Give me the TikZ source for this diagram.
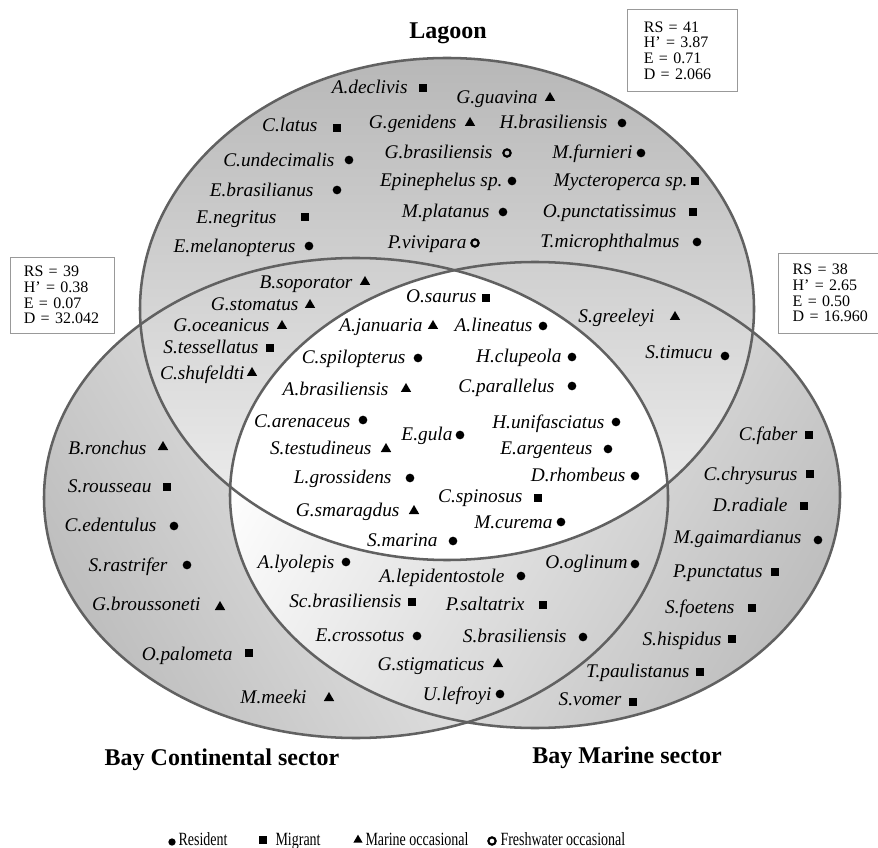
\documentclass[tikz,border=0pt]{standalone}
\usepackage{fontspec}
\setmainfont{Liberation Serif}
\usepackage{graphicx}
\usetikzlibrary{shapes.geometric}

\tikzset{every picture/.style={line width=0.75pt}}
\tikzset{
  ring/.style={draw=black!62, line width=1.9pt},
  sp/.style={font=\fontsize{14.5}{16}\selectfont\itshape, anchor=east, inner sep=0pt, text height=10pt, text depth=2pt},
  res/.style={circle, fill=black, inner sep=0pt, minimum size=6.5pt},
  mig/.style={rectangle, fill=black, inner sep=0pt, minimum size=6pt},
  mar/.style={regular polygon, regular polygon sides=3, fill=black, inner sep=0pt, minimum size=9pt},
  fwo/.style={circle, draw=black, line width=1.6pt, inner sep=0pt, minimum size=5.5pt},
  statbox/.style={draw=black!40, fill=white, line width=0.6pt, align=left, inner xsep=10pt, inner ysep=0pt,
    font=\fontsize{12}{11.8}\selectfont, minimum height=62pt},
  sector/.style={font=\fontsize{18}{20}\selectfont\bfseries},
  legend/.style={font=\fontsize{14}{16}\selectfont, anchor=west, inner sep=0pt, text height=10pt, text depth=2pt}
}

\begin{document}
\begin{tikzpicture}[x=0.75pt,y=0.75pt,yscale=-1,xscale=1]
	\useasboundingbox (0,0) rectangle (878,848);

	%Shape: Ellipse (Bay Continental sector)
	\shade [top color=gray!50, middle color=gray!16, bottom color=white, shading angle=120] (356,498) ellipse [x radius=312, y radius=240];
	%Shape: Ellipse (Bay Marine sector)
	\shade [top color=gray!50, middle color=gray!16, bottom color=white, shading angle=240] (535,495) ellipse [x radius=305, y radius=233];
	%Shape: Ellipse (Lagoon)
	\shade [top color=gray!56, middle color=gray!14, bottom color=gray!10] (447,309) ellipse [x radius=307, y radius=251];
	% centre part, white
	\begin{scope}
		\clip (356,498) ellipse [x radius=312, y radius=240];
		\clip (535,495) ellipse [x radius=305, y radius=233];
		\fill [white] (447,309) ellipse [x radius=307, y radius=251];
	\end{scope}

	\draw [ring] (356,498) ellipse [x radius=312, y radius=240];
	\draw [ring] (535,495) ellipse [x radius=305, y radius=233];
	\draw [ring] (447,309) ellipse [x radius=307, y radius=251];

	% Text Node
	\node [sector] (lagoon) at (448,33) {Lagoon};
	% Text Node
	\node [sector] (baycont) at (222,760) {Bay Continental sector};
	% Text Node
	\node [sector] (baymar) at (627,758) {Bay Marine sector};

	% Text Node
	\node [statbox, inner xsep=12pt, text width=58pt] (statlag) at (682.5,50.5) {RS = 41\\H’ = 3.87\\E = 0.71\\D = 2.066};
	% Text Node
	\node [statbox, text width=58pt, minimum height=57pt] (statcont) at (62.5,295) {RS = 39\\H’ = 0.38\\E = 0.07\\D = 32.042};
	% Text Node
	\node [statbox, inner xsep=11pt, text width=71pt, minimum height=60pt] (statmar) at (840,293) {RS = 38\\H’ = 2.65\\E = 0.50\\D = 16.960};

	%Lagoon
	\node [sp] (adeclivis) at (408,88) {A.declivis}; \node [mig] (adeclivis-m) at (423,88) {};
	\node [sp] (gguavina) at (538,98) {G.guavina}; \node [mar] (gguavina-m) at (550,98) {};
	\node [sp] (clatus) at (318,126) {C.latus}; \node [mig] (clatus-m) at (337,128) {};
	\node [sp] (ggenidens) at (457,123) {G.genidens}; \node [mar] (ggenidens-m) at (470,123) {};
	\node [sp] (hbrasil) at (608,123) {H.brasiliensis}; \node [res] (hbrasil-m) at (622,123) {};
	\node [sp] (cundec) at (335,161) {C.undecimalis}; \node [res] (cundec-m) at (349,160) {};
	\node [sp] (gbrasil) at (493,153) {G.brasiliensis}; \node [fwo] (gbrasil-m) at (507,153) {};
	\node [sp] (mfurnieri) at (633,153) {M.furnieri}; \node [res] (mfurnieri-m) at (641,153) {};
	\node [sp] (ebrasil) at (314,191) {E.brasilianus}; \node [res] (ebrasil-m) at (337,190) {};
	\node [sp] (epineph) at (503,181) {Epinephelus sp.}; \node [res] (epineph-m) at (512,181) {};
	\node [sp] (mycter) at (688,181) {Mycteroperca sp.}; \node [mig] (mycter-m) at (695,181) {};
	\node [sp] (enegritus) at (277,218) {E.negritus}; \node [mig] (enegritus-m) at (305,217) {};
	\node [sp] (mplatanus) at (490,212) {M.platanus}; \node [res] (mplatanus-m) at (503,212) {};
	\node [sp] (opunct) at (677,212) {O.punctatissimus}; \node [mig] (opunct-m) at (693,212) {};
	\node [sp] (emelan) at (296,247) {E.melanopterus}; \node [res] (emelan-m) at (309,246) {};
	\node [sp] (pvivipara) at (467,243) {P.vivipara}; \node [fwo] (pvivipara-m) at (475,243) {};
	\node [sp] (tmicro) at (680,242) {T.microphthalmus}; \node [res] (tmicro-m) at (697,242) {};

	%Lagoon and Bay Continental
	\node [sp] (bsopor) at (353,283) {B.soporator}; \node [mar] (bsopor-m) at (365,282) {};
	\node [sp] (gstomatus) at (299,305) {G.stomatus}; \node [mar] (gstomatus-m) at (310,305) {};
	\node [sp] (goceanicus) at (270,326) {G.oceanicus}; \node [mar] (goceanicus-m) at (282,326) {};
	\node [sp] (stessel) at (259,348) {S.tessellatus}; \node [mig] (stessel-m) at (270,348) {};
	\node [sp] (cshufeldti) at (245,374) {C.shufeldti}; \node [mar] (cshufeldti-m) at (252,373) {};

	%Lagoon and Bay Marine
	\node [sp] (sgreeleyi) at (655,317) {S.greeleyi}; \node [mar] (sgreeleyi-m) at (675,317) {};
	\node [sp] (stimucu) at (713,353) {S.timucu}; \node [res] (stimucu-m) at (725,356) {};

	%All three
	\node [sp] (osaurus) at (477,297) {O.saurus}; \node [mig] (osaurus-m) at (486,298) {};
	\node [sp] (ajanuaria) at (423,326) {A.januaria}; \node [mar] (ajanuaria-m) at (433,326) {};
	\node [sp] (alineatus) at (533,326) {A.lineatus}; \node [res] (alineatus-m) at (543,326) {};
	\node [sp] (cspilop) at (406,358) {C.spilopterus}; \node [res] (cspilop-m) at (418,358) {};
	\node [sp] (hclupeola) at (562,357) {H.clupeola}; \node [res] (hclupeola-m) at (572,357) {};
	\node [sp] (abrasil) at (389,390) {A.brasiliensis}; \node [mar] (abrasil-m) at (406,389) {};
	\node [sp] (cparall) at (555,387) {C.parallelus}; \node [res] (cparall-m) at (572,386) {};
	\node [sp] (carenac) at (351,422) {C.arenaceus}; \node [res] (carenac-m) at (363,420) {};
	\node [sp] (hunifasc) at (605,423) {H.unifasciatus}; \node [res] (hunifasc-m) at (616,422) {};
	\node [sp] (egula) at (453,435) {E.gula}; \node [res] (egula-m) at (460,435) {};
	\node [sp] (stestud) at (372,449) {S.testudineus}; \node [mar] (stestud-m) at (386,449) {};
	\node [sp] (eargent) at (593,449) {E.argenteus}; \node [res] (eargent-m) at (608,449) {};
	\node [sp] (lgrossid) at (392,478) {L.grossidens}; \node [res] (lgrossid-m) at (410,478) {};
	\node [sp] (drhomb) at (626,476) {D.rhombeus}; \node [res] (drhomb-m) at (635,476) {};
	\node [sp] (cspinosus) at (523,497) {C.spinosus}; \node [mig] (cspinosus-m) at (538,498) {};
	\node [sp] (gsmarag) at (400,511) {G.smaragdus}; \node [mar] (gsmarag-m) at (414,511) {};
	\node [sp] (mcurema) at (553,523) {M.curema}; \node [res] (mcurema-m) at (561,522) {};
	\node [sp] (smarina) at (438,541) {S.marina}; \node [res] (smarina-m) at (453,541) {};

	%Bay Continental and Bay Marine
	\node [sp] (alyolepis) at (335,563) {A.lyolepis}; \node [res] (alyolepis-m) at (346,562) {};
	\node [sp] (alepident) at (505,577) {A.lepidentostole}; \node [res] (alepident-m) at (521,576) {};
	\node [sp] (ooglinum) at (628,563) {O.oglinum}; \node [res] (ooglinum-m) at (635,564) {};
	\node [sp] (scbrasil) at (402,602) {Sc.brasiliensis}; \node [mig] (scbrasil-m) at (412,602) {};
	\node [sp] (psaltatrix) at (525,605) {P.saltatrix}; \node [mig] (psaltatrix-m) at (543,605) {};
	\node [sp] (ecrossotus) at (405,636) {E.crossotus}; \node [res] (ecrossotus-m) at (417,636) {};
	\node [sp] (sbrasil) at (567,637) {S.brasiliensis}; \node [res] (sbrasil-m) at (583,637) {};
	\node [sp] (gstigmat) at (485,665) {G.stigmaticus}; \node [mar] (gstigmat-m) at (498,664) {};
	\node [sp] (ulefroyi) at (492,695) {U.lefroyi}; \node [res] (ulefroyi-m) at (500,694) {};

	%Bay Continental
	\node [sp] (bronchus) at (147,449) {B.ronchus}; \node [mar] (bronchus-m) at (163,447) {};
	\node [sp] (srousseau) at (152,487) {S.rousseau}; \node [mig] (srousseau-m) at (167,487) {};
	\node [sp] (cedentulus) at (157,526) {C.edentulus}; \node [res] (cedentulus-m) at (174,526) {};
	\node [sp] (srastrifer) at (168,566) {S.rastrifer}; \node [res] (srastrifer-m) at (187,565) {};
	\node [sp] (gbrousso) at (201,605) {G.broussoneti}; \node [mar] (gbrousso-m) at (220,607) {};
	\node [sp] (opalometa) at (233,655) {O.palometa}; \node [mig] (opalometa-m) at (249,653) {};
	\node [sp] (mmeeki) at (307,698) {M.meeki}; \node [mar] (mmeeki-m) at (329,698) {};

	%Bay Marine
	\node [sp] (cfaber) at (798,435) {C.faber}; \node [mig] (cfaber-m) at (809,435) {};
	\node [sp] (cchrys) at (798,475) {C.chrysurus}; \node [mig] (cchrys-m) at (810,474) {};
	\node [sp] (dradiale) at (788,506) {D.radiale}; \node [mig] (dradiale-m) at (804,506) {};
	\node [sp] (mgaimard) at (802,538) {M.gaimardianus}; \node [res] (mgaimard-m) at (818,540) {};
	\node [sp] (ppunct) at (763,572) {P.punctatus}; \node [mig] (ppunct-m) at (775,572) {};
	\node [sp] (sfoetens) at (735,608) {S.foetens}; \node [mig] (sfoetens-m) at (752,608) {};
	\node [sp] (shispidus) at (722,640) {S.hispidus}; \node [mig] (shispidus-m) at (732,639) {};
	\node [sp] (tpaulist) at (690,672) {T.paulistanus}; \node [mig] (tpaulist-m) at (700,672) {};
	\node [sp] (svomer) at (622,700) {S.vomer}; \node [mig] (svomer-m) at (633,702) {};

	%Legend
	\node [res, minimum size=5.5pt] (kres) at (172,842) {};
	\node [legend] (kres-t) at (178,840) {\scalebox{0.75}[1]{Resident}};
	\node [mig, minimum size=6pt] (kmig) at (263,840) {};
	\node [legend] (kmig-t) at (275,840) {\scalebox{0.75}[1]{Migrant}};
	\node [mar, minimum size=8pt] (kmar) at (358,840) {};
	\node [legend] (kmar-t) at (365,840) {\scalebox{0.75}[1]{Marine occasional}};
	\node [fwo] (kfwo) at (492,841) {};
	\node [legend] (kfwo-t) at (500,840) {\scalebox{0.75}[1]{Freshwater occasional}};

\end{tikzpicture}
\end{document}
